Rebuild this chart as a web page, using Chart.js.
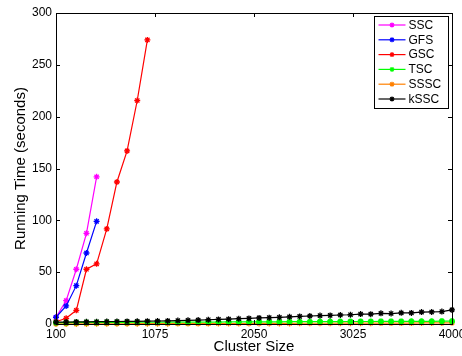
<!DOCTYPE html>
<html>
<head>
<meta charset="utf-8">
<script src="https://cdn.jsdelivr.net/npm/chart.js@4.4.1/dist/chart.umd.min.js"></script>
<style>
  html, body { margin: 0; padding: 0; background: #fff; }
</style>
</head>
<body>
<canvas id="runtimeChart" width="462" height="356"></canvas>
<script>
// Running time vs cluster size

const clusterSizes = [100, 200, 300, 400, 500, 600, 700, 800, 900, 1000,
    1100, 1200, 1300, 1400, 1500, 1600, 1700, 1800, 1900, 2000,
    2100, 2200, 2300, 2400, 2500, 2600, 2700, 2800, 2900, 3000,
    3100, 3200, 3300, 3400, 3500, 3600, 3700, 3800, 3900, 4000];
const xTickValues = [100, 1075, 2050, 3025, 4000];

const sscTime = [6.5, 22.5, 52.8, 87.5, 142.0];
const gfsTime = [6.5, 17.4, 37.0, 68.5, 99.0];
const gscTime = [2.2, 5.5, 13.2, 52.8, 58.0, 91.7, 137.0, 167.0, 215.6, 274.0];
const tscTime = [1.4, 1.4, 1.5, 1.5, 1.5, 1.6, 1.6, 1.6, 1.7, 1.7,
    1.7, 1.8, 1.8, 1.8, 1.9, 1.9, 1.9, 2.0, 2.0, 2.0,
    2.1, 2.1, 2.1, 2.2, 2.2, 2.2, 2.3, 2.3, 2.3, 2.4,
    2.4, 2.4, 2.5, 2.5, 2.5, 2.6, 2.6, 2.6, 2.7, 2.7];
const ssscTime = [0.1, 0.1, 0.1, 0.1, 0.2, 0.2, 0.2, 0.2, 0.3, 0.3,
    0.3, 0.3, 0.4, 0.4, 0.4, 0.4, 0.5, 0.5, 0.5, 0.5,
    0.6, 0.6, 0.6, 0.6, 0.7, 0.7, 0.7, 0.7, 0.8, 0.8,
    0.8, 0.8, 0.9, 0.9, 0.9, 0.9, 1.0, 1.0, 1.0, 1.1];
const ksscTime = [1.8, 1.9, 2.0, 2.1, 2.2, 2.3, 2.4, 2.5, 2.6, 2.7,
    2.9, 3.0, 3.3, 3.5, 3.8, 4.1, 4.4, 4.7, 5.1, 5.4,
    5.9, 6.1, 6.4, 6.9, 7.3, 7.7, 8.1, 8.3, 8.7, 8.9,
    9.6, 9.5, 10.3, 10.1, 10.8, 10.7, 11.5, 11.6, 12.0, 13.6];

const seriesNames = ["SSC", "GFS", "GSC", "TSC", "SSSC", "kSSC"];
const seriesColors = ["#ff00ff", "#0000ff", "#ff0000", "#00ff00", "#ff8000", "#000000"];
const seriesValues = [sscTime, gfsTime, gscTime, tscTime, ssscTime, ksscTime];
const drawOrder = [6, 5, 4, 2, 3, 1]; // lower = drawn later (on top)

const fontFamily = '"Liberation Sans", Arial, Helvetica, sans-serif';
Chart.defaults.font.family = fontFamily;
Chart.defaults.color = "#000";

// axes box + inward ticks, matlab style
const axesBox = {
    id: "axesBox",
    afterDatasetsDraw(chart) {
        const { ctx, chartArea: a, scales } = chart;
        ctx.save();
        ctx.strokeStyle = "#000";
        ctx.lineWidth = 1;
        ctx.strokeRect(Math.round(a.left) + 0.5, Math.round(a.top) + 0.5,
            Math.round(a.right - a.left), Math.round(a.bottom - a.top));
        ctx.beginPath();
        scales.x.ticks.forEach(t => {
            const px = Math.round(scales.x.getPixelForValue(t.value)) + 0.5;
            ctx.moveTo(px, a.bottom); ctx.lineTo(px, a.bottom - 4);
            ctx.moveTo(px, a.top); ctx.lineTo(px, a.top + 4);
        });
        scales.y.ticks.forEach(t => {
            const py = Math.round(scales.y.getPixelForValue(t.value)) + 0.5;
            ctx.moveTo(a.left, py); ctx.lineTo(a.left + 4, py);
            ctx.moveTo(a.right, py); ctx.lineTo(a.right - 4, py);
        });
        ctx.stroke();
        ctx.restore();
    }
};

// legend inside the plot, top right
const boxLegend = {
    id: "boxLegend",
    afterDraw(chart) {
        const { ctx, chartArea: a } = chart;
        const w = 74, h = 92, rowH = 14.8;
        const left = Math.round(a.right - 4 - w) + 0.5;
        const top = Math.round(a.top + 3) + 0.5;
        ctx.save();
        ctx.fillStyle = "#fff";
        ctx.fillRect(left, top, w, h);
        ctx.strokeStyle = "#000";
        ctx.lineWidth = 1;
        ctx.strokeRect(left, top, w, h);
        ctx.font = "12px " + fontFamily;
        ctx.textBaseline = "middle";
        chart.data.datasets.forEach((ds, i) => {
            const y = top + 8.5 + i * rowH;
            ctx.strokeStyle = ds.borderColor;
            ctx.lineWidth = 1.2;
            ctx.beginPath();
            ctx.moveTo(left + 4, y);
            ctx.lineTo(left + 31, y);
            ctx.stroke();
            Chart.helpers.drawPoint(ctx, { pointStyle: "star", radius: 2.5, borderWidth: 1 }, left + 17.5, y);
            ctx.fillStyle = "#000";
            ctx.fillText(ds.label, left + 34, y + 0.5);
        });
        ctx.restore();
    }
};

const runtimeChart = new Chart(document.getElementById("runtimeChart").getContext("2d"), {
    type: "line",
    data: {
        datasets: seriesNames.map((name, i) => ({
            label: name,
            data: seriesValues[i].map((v, j) => ({ x: clusterSizes[j], y: v })),
            borderColor: seriesColors[i],
            backgroundColor: seriesColors[i],
            borderWidth: 1.2,
            pointStyle: "star",
            pointRadius: 3,
            pointBorderWidth: name === "TSC" ? 2 : 1.3,
            fill: false,
            tension: 0,
            clip: false,
            order: drawOrder[i]
        }))
    },
    options: {
        responsive: false,
        animation: false,
        devicePixelRatio: 1,
        layout: { padding: { top: 13, right: 10, left: 0, bottom: 0 } },
        plugins: {
            legend: { display: false },
            tooltip: { enabled: false }
        },
        scales: {
            x: {
                type: "linear",
                min: 100,
                max: 4000,
                grid: { display: false, drawTicks: false },
                border: { display: false },
                ticks: { font: { size: 12 }, padding: 3, maxRotation: 0, callback: v => String(v) },
                afterBuildTicks: scale => { scale.ticks = xTickValues.map(v => ({ value: v })); },
                afterFit: scale => { scale.height = 32; scale.paddingLeft = 0; scale.paddingRight = 0; },
                title: { display: true, text: "Cluster Size", font: { size: 15 }, padding: 0 }
            },
            y: {
                min: 0,
                max: 300,
                grid: { display: false, drawTicks: false },
                border: { display: false },
                ticks: { stepSize: 50, font: { size: 12 }, padding: 4 },
                afterFit: scale => { scale.width = 56; scale.paddingTop = 0; scale.paddingBottom = 0; },
                title: { display: true, text: "Running Time (seconds)", font: { size: 15 }, padding: { top: 12 } }
            }
        }
    },
    plugins: [axesBox, boxLegend]
});
</script>
</body>
</html>
